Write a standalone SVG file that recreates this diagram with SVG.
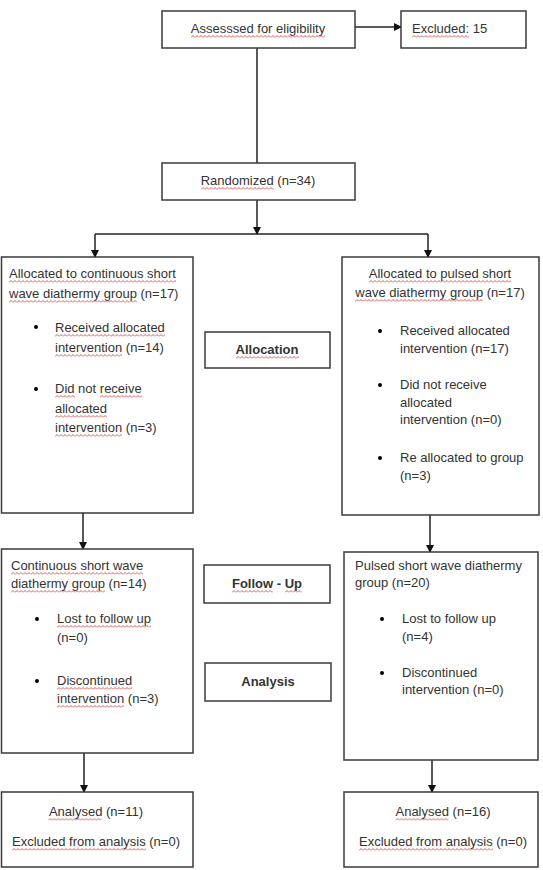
<svg xmlns="http://www.w3.org/2000/svg" width="543" height="870" viewBox="0 0 543 870">
<defs>
<marker id="ah" markerWidth="8" markerHeight="8" refX="7" refY="4" orient="auto" markerUnits="userSpaceOnUse">
<path d="M0,0 L8,4 L0,8 z" fill="#111"/>
</marker>
<pattern id="sq" width="4" height="3" patternUnits="userSpaceOnUse">
<path d="M0,2.5 L2,0.5 L4,2.5" fill="none" stroke="#d84a4a" stroke-width="0.9"/>
</pattern>
</defs>
<style>
.box{fill:#fff;stroke:#3a3a3a;stroke-width:1.5}
.t{font-family:"Liberation Sans",Arial,sans-serif;font-size:13px;fill:#333}
.c{text-anchor:middle}
.b{font-weight:bold}
.sq{fill:url(#sq)}
.ln{stroke:#222;stroke-width:1.5;fill:none}
.ar{stroke:#222;stroke-width:1.5;fill:none;marker-end:url(#ah)}
</style>
<rect width="543" height="870" fill="#fff"/>
<g id="connectors">
<line class="ar" x1="355" y1="27" x2="401" y2="27"/>
<line class="ln" x1="257" y1="48" x2="257" y2="163"/>
<line class="ar" x1="257" y1="200" x2="257" y2="234"/>
<line class="ln" x1="95" y1="234" x2="428" y2="234"/>
<line class="ar" x1="95" y1="234" x2="95" y2="257"/>
<line class="ar" x1="428" y1="234" x2="428" y2="257"/>
<line class="ar" x1="83" y1="513" x2="83" y2="549"/>
<line class="ar" x1="430" y1="515" x2="430" y2="552"/>
<line class="ar" x1="84" y1="753" x2="84" y2="792"/>
<line class="ar" x1="432" y1="760" x2="432" y2="792"/>
</g>
<g id="assessed">
<rect class="box" x="162" y="11" width="193" height="37"/>
<text class="t c" x="258" y="33">Assesssed for eligibility</text>
<rect class="sq" transform="translate(191,35)" width="134" height="3"/>
</g>
<g id="excluded">
<rect class="box" x="401" y="11" width="125" height="37"/>
<text class="t" x="412" y="33">Excluded: 15</text>
<rect class="sq" transform="translate(412,35)" width="57" height="3"/>
</g>
<g id="randomized">
<rect class="box" x="162" y="163" width="193" height="37"/>
<text class="t c" x="258" y="185">Randomized (n=34)</text>
<rect class="sq" transform="translate(201,187)" width="73" height="3"/>
</g>
<g id="alloc-left">
<rect class="box" x="1.5" y="257" width="191.5" height="256"/>
<text class="t" x="9" y="278">Allocated to continuous short</text>
<text class="t" x="9" y="298">wave diathermy group (n=17)</text>
<circle cx="36" cy="327" r="2"/>
<text class="t" x="55" y="332">Received allocated</text>
<text class="t" x="55" y="352">intervention (n=14)</text>
<circle cx="36" cy="389" r="2"/>
<text class="t" x="55" y="393">Did not receive</text>
<text class="t" x="55" y="413">allocated</text>
<text class="t" x="55" y="432">intervention (n=3)</text>
<rect class="sq" transform="translate(9,280)" width="167" height="3"/>
<rect class="sq" transform="translate(9,300)" width="128" height="3"/>
<rect class="sq" transform="translate(55,334)" width="110" height="3"/>
<rect class="sq" transform="translate(55,354)" width="67" height="3"/>
<rect class="sq" transform="translate(55,395)" width="20" height="3"/>
<rect class="sq" transform="translate(100,395)" width="42" height="3"/>
<rect class="sq" transform="translate(55,415)" width="52" height="3"/>
<rect class="sq" transform="translate(55,434)" width="67" height="3"/>
</g>
<g id="alloc-right">
<rect class="box" x="342" y="257" width="197" height="258"/>
<text class="t c" x="440" y="278">Allocated to pulsed short</text>
<text class="t c" x="440" y="297">wave diathermy group (n=17)</text>
<rect class="sq" transform="translate(369,280)" width="142" height="3"/>
<rect class="sq" transform="translate(355,299)" width="128" height="3"/>
<circle cx="380" cy="331" r="2"/>
<text class="t" x="400" y="335">Received allocated</text>
<text class="t" x="400" y="353">intervention (n=17)</text>
<circle cx="380" cy="385" r="2"/>
<text class="t" x="400" y="389">Did not receive</text>
<text class="t" x="400" y="407">allocated</text>
<text class="t" x="400" y="424">intervention (n=0)</text>
<circle cx="380" cy="458" r="2"/>
<text class="t" x="400" y="462">Re allocated to group</text>
<text class="t" x="400" y="480">(n=3)</text>
</g>
<g id="allocation">
<rect class="box" x="205" y="332" width="125" height="36"/>
<text class="t c b" x="267" y="354">Allocation</text>
<rect class="sq" transform="translate(236,356)" width="63" height="3"/>
</g>
<g id="followup-left">
<rect class="box" x="1.5" y="549" width="191.5" height="204"/>
<text class="t" x="11" y="570">Continuous short wave</text>
<text class="t" x="11" y="588">diathermy group (n=14)</text>
<circle cx="37" cy="619" r="2"/>
<text class="t" x="57" y="623">Lost to follow up</text>
<text class="t" x="57" y="642">(n=0)</text>
<circle cx="37" cy="681" r="2"/>
<text class="t" x="57" y="685">Discontinued</text>
<text class="t" x="57" y="703">intervention (n=3)</text>
<rect class="sq" transform="translate(11,572)" width="132" height="3"/>
<rect class="sq" transform="translate(11,590)" width="94" height="3"/>
<rect class="sq" transform="translate(57,625)" width="94" height="3"/>
<rect class="sq" transform="translate(57,687)" width="75" height="3"/>
<rect class="sq" transform="translate(57,705)" width="67" height="3"/>
</g>
<g id="followup-right">
<rect class="box" x="344" y="552" width="194" height="208"/>
<text class="t" x="355" y="570">Pulsed short wave diathermy</text>
<text class="t" x="355" y="587">group (n=20)</text>
<circle cx="382" cy="619" r="2"/>
<text class="t" x="402" y="623">Lost to follow up</text>
<text class="t" x="402" y="641">(n=4)</text>
<circle cx="382" cy="673" r="2"/>
<text class="t" x="402" y="677">Discontinued</text>
<text class="t" x="402" y="694">intervention (n=0)</text>
</g>
<g id="followup-label">
<rect class="box" x="204" y="565" width="126" height="38"/>
<text class="t c b" x="267" y="588">Follow - Up</text>
<rect class="sq" transform="translate(232,590)" width="41" height="3"/>
<rect class="sq" transform="translate(285,590)" width="17" height="3"/>
</g>
<g id="analysis-label">
<rect class="box" x="205" y="663" width="126" height="38"/>
<text class="t c b" x="268" y="686">Analysis</text>
</g>
<g id="analysed-left">
<rect class="box" x="1.5" y="792" width="191.5" height="75"/>
<text class="t c" x="96" y="816">Analysed (n=11)</text>
<text class="t c" x="96" y="846">Excluded from analysis (n=0)</text>
<rect class="sq" transform="translate(48.5,818)" width="53" height="3"/>
<rect class="sq" transform="translate(12,848)" width="134" height="3"/>
</g>
<g id="analysed-right">
<rect class="box" x="344" y="792" width="194" height="75"/>
<text class="t c" x="443" y="816">Analysed (n=16)</text>
<text class="t c" x="443" y="846">Excluded from analysis (n=0)</text>
<rect class="sq" transform="translate(395.5,818)" width="53" height="3"/>
<rect class="sq" transform="translate(359,848)" width="134" height="3"/>
</g>
</svg>
